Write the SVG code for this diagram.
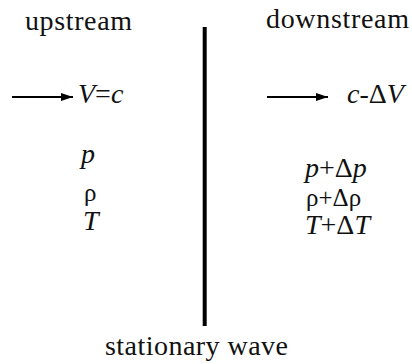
<svg xmlns="http://www.w3.org/2000/svg" width="412" height="364" viewBox="0 0 412 364" font-family="Liberation Serif, serif">
<defs>
<style>
text{font-size:28px;fill:#111}
.i{font-style:italic}
.r{font-size:25px}
.ln{stroke:#000;stroke-width:2}
</style>
<marker id="ah" viewBox="0 0 12 8" refX="12" refY="4" markerWidth="12" markerHeight="8" markerUnits="userSpaceOnUse" orient="auto">
<path d="M0,0 L12,4 L0,8 z" fill="#000"/>
</marker>
</defs>
<rect width="412" height="364" fill="#fff"/>
<g id="connectors">
<line class="ln" x1="12" y1="97" x2="73" y2="97" marker-end="url(#ah)"/>
<line class="ln" x1="267" y1="97" x2="328" y2="97" marker-end="url(#ah)"/>
</g>
<g id="wave">
<line x1="204.7" y1="27" x2="204.7" y2="326" stroke="#000" stroke-width="4"/>
<text x="105" y="355" textLength="183">stationary wave</text>
</g>
<g id="upstream">
<text x="25" y="30" textLength="107">upstream</text>
<text x="78" y="103"><tspan class="i">V</tspan>=<tspan class="i">c</tspan></text>
<text x="81" y="163" class="i">p</text>
<text x="84" y="201" class="r">ρ</text>
<text x="83" y="230" class="i">T</text>
</g>
<g id="downstream">
<text x="266" y="28" textLength="143">downstream</text>
<text x="347" y="103"><tspan class="i">c</tspan>-Δ<tspan class="i">V</tspan></text>
<text x="305" y="177"><tspan class="i">p</tspan>+Δ<tspan class="i">p</tspan></text>
<text x="306" y="206" class="r">ρ+Δρ</text>
<text x="305" y="234"><tspan class="i">T</tspan>+Δ<tspan class="i">T</tspan></text>
</g>
</svg>
